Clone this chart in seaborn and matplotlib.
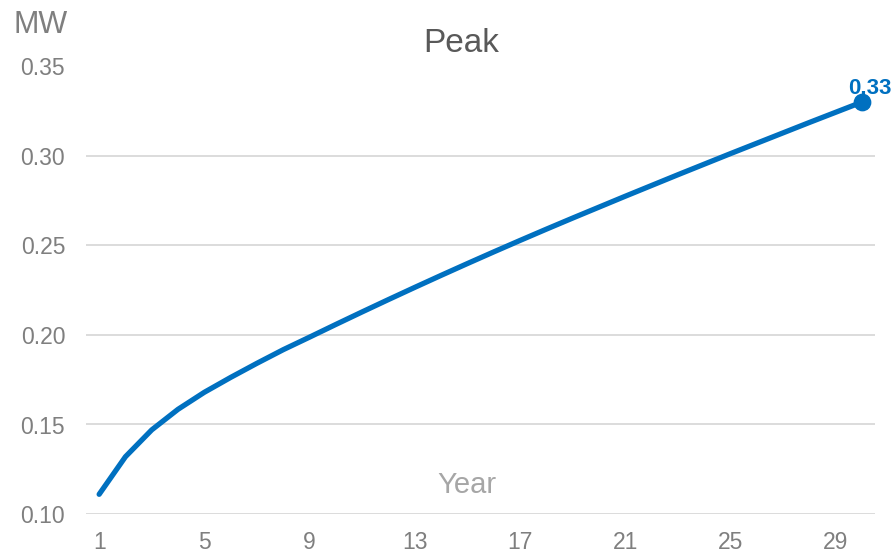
import matplotlib
matplotlib.use("Agg")
import matplotlib.pyplot as plt
import seaborn as sns
import pandas as pd

years = list(range(1, 31))
peak_mw = [0.111, 0.132, 0.147, 0.1585, 0.1680, 0.1763, 0.1842, 0.1918, 0.1988, 0.2059,
           0.2129, 0.2198, 0.2266, 0.2333, 0.2399, 0.2464, 0.2528, 0.2591, 0.2653, 0.2714,
           0.2775, 0.2835, 0.2895, 0.2954, 0.3013, 0.3071, 0.3129, 0.3187, 0.3244, 0.3301]
xtick_years = [1, 5, 9, 13, 17, 21, 25, 29]
ytick_vals = [0.10, 0.15, 0.20, 0.25, 0.30, 0.35]

sns.set_theme(style="white")
plt.rcParams['font.family'] = ['Liberation Sans', 'DejaVu Sans']

df = pd.DataFrame({"Year": years, "MW": peak_mw})

fig = plt.figure(figsize=(8.95, 5.52), dpi=100)
ax = fig.add_axes([86/895, 38/552, (875-86)/895, (514-66.5)/552])

blue = "#0070C0"
sns.lineplot(data=df, x="Year", y="MW", ax=ax, color=blue, linewidth=3.8,
             solid_capstyle="round")
last = df.iloc[[-1]]
sns.scatterplot(data=last, x="Year", y="MW", ax=ax, color=blue, s=140,
                edgecolor=blue, zorder=5)
ax.annotate(f"{peak_mw[-1]:.2f}", (years[-1], peak_mw[-1]), xytext=(6, 10),
            textcoords="offset points", ha="center", va="center",
            color=blue, fontsize=16, fontweight="bold", annotation_clip=False)

ax.set_xlim(0.5, 30.5)
ax.set_ylim(0.10, 0.35)
ax.set_xticks(xtick_years)
ax.set_yticks(ytick_vals)
ax.set_yticklabels([f"{v:.2f}" for v in ytick_vals])
ax.tick_params(axis="both", length=0, labelsize=16.5, colors="#7f7f7f")
ax.tick_params(axis="y", pad=15)
ax.tick_params(axis="x", pad=12)
ax.grid(axis="y", color="#d9d9d9", linewidth=1.3)
ax.grid(axis="x", visible=False)
for s in ax.spines.values():
    s.set_visible(False)
ax.set_xlabel("")
ax.set_ylabel("")

fig.text(41/895, 1 - 25/552, "MW", ha="center", va="center",
         fontsize=22, color="#7f7f7f")
fig.text(461/895, 1 - 44/552, "Peak", ha="center", va="center",
         fontsize=24, color="#595959")
fig.text(467/895, 1 - 485/552, "Year", ha="center", va="center", fontsize=21,
         color="#a6a6a6")

fig.savefig("out.png", dpi=100)
